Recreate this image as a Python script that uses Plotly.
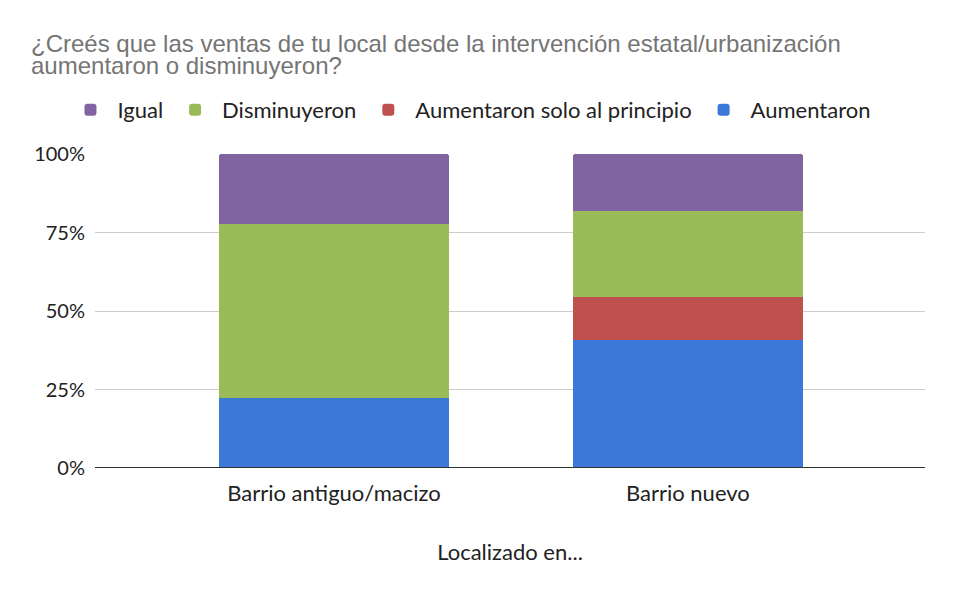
import plotly.graph_objects as go

categories = ["Barrio antiguo/macizo", "Barrio nuevo"]
series_names = ["Aumentaron", "Aumentaron solo al principio", "Disminuyeron", "Igual"]
aumentaron = [22.2, 40.9]
aumentaron_principio = [0.0, 13.6]
disminuyeron = [55.6, 27.3]
igual = [22.2, 18.2]
colors = ["#3C78D8", "#C0504D", "#9BBB59", "#8064A2"]
y_ticks = [0, 25, 50, 75, 100]
title_lines = ["¿Creés que las ventas de tu local desde la intervención estatal/urbanización",
               "aumentaron o disminuyeron?"]
x_title = "Localizado en..."

FONT = "Lato, 'Noto Sans', sans-serif"

fig = go.Figure()
for name, vals, col in zip(series_names, [aumentaron, aumentaron_principio, disminuyeron, igual], colors):
    fig.add_trace(go.Bar(x=categories, y=vals, name=name, marker_color=col,
                         marker_line_width=0, width=0.65))

fig.update_layout(
    width=955, height=594,
    barmode="stack",
    barcornerradius=3,
    plot_bgcolor="white", paper_bgcolor="white",
    margin=dict(l=87, r=38, t=146, b=134),
    font=dict(family=FONT, size=22, color="#222222"),
    showlegend=True,
    legend=dict(orientation="h", traceorder="reversed", x=-0.038, xanchor="left",
                y=1.14, yanchor="middle", font=dict(size=22, color="#222222"),
                itemsizing="constant", itemwidth=44),
    xaxis=dict(range=[-0.675, 1.67], showgrid=False, showline=False, ticks="",
               tickfont=dict(size=22), ticklabelstandoff=10, tickangle=0,
               title=dict(text=x_title, font=dict(size=22), standoff=39)),
    yaxis=dict(range=[0, 100], tickvals=y_ticks, ticktext=[f"{v}%" for v in y_ticks],
               showgrid=True, gridcolor="#cccccc", gridwidth=1, zeroline=False,
               showline=False, tickfont=dict(size=20), ticks="", ticklabelstandoff=9),
)
fig.add_hline(y=0, line_color="#333333", line_width=2)

for txt, yp in zip(title_lines, [1.352, 1.282]):
    fig.add_annotation(text=txt, xref="paper", yref="paper", x=-0.08, y=yp,
                       xanchor="left", yanchor="middle", showarrow=False,
                       font=dict(family="'Liberation Sans', Arial, sans-serif", size=24, color="#757575"))

fig.write_html("out.html")
